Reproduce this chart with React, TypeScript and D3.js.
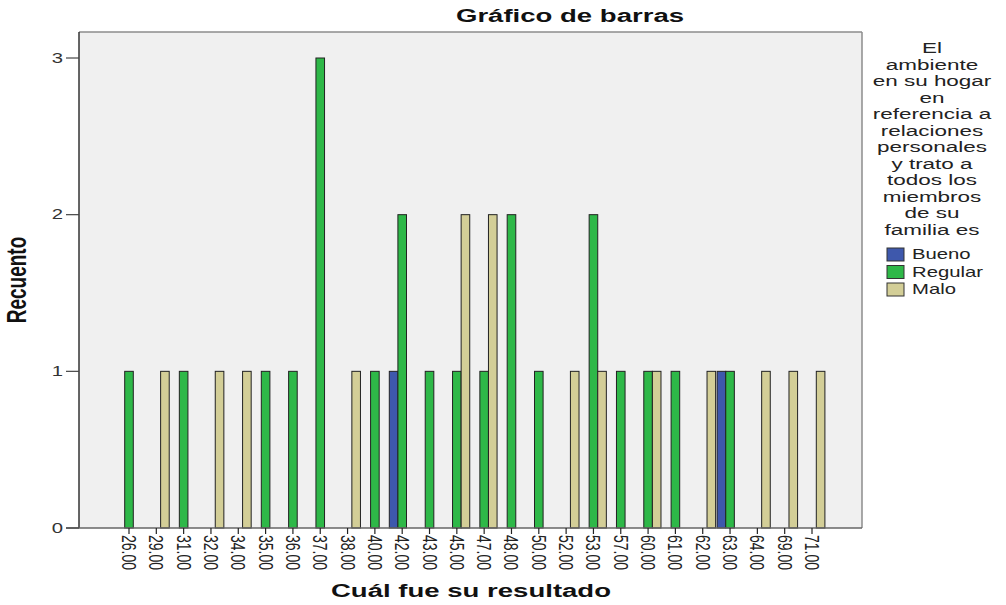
import * as d3 from 'd3';

const categories = ['26.00', '29.00', '31.00', '32.00', '34.00', '35.00', '36.00', '37.00', '38.00', '40.00', '42.00', '43.00', '45.00', '47.00', '48.00', '50.00', '52.00', '53.00', '57.00', '60.00', '61.00', '62.00', '63.00', '64.00', '69.00', '71.00'];
const groups = ['Bueno', 'Regular', 'Malo'];
const bueno = [0, 0, 0, 0, 0, 0, 0, 0, 0, 0, 1, 0, 0, 0, 0, 0, 0, 0, 0, 0, 0, 0, 1, 0, 0, 0];
const regular = [1, 0, 1, 0, 0, 1, 1, 3, 0, 1, 2, 1, 1, 1, 2, 1, 0, 2, 1, 1, 1, 0, 1, 0, 0, 0];
const malo = [0, 1, 0, 1, 1, 0, 0, 0, 1, 0, 0, 0, 2, 2, 0, 0, 1, 1, 0, 1, 0, 1, 0, 1, 1, 1];
const yTicks = [0, 1, 2, 3];
const legendTitle = ['El', 'ambiente', 'en su hogar', 'en', 'referencia a', 'relaciones', 'personales', 'y trato a', 'todos los', 'miembros', 'de su', 'familia es'];

const colors = { Bueno: '#3e58ac', Regular: '#2eb848', Malo: '#d3ce97' };
const font = '"Liberation Sans", Arial, sans-serif';
const SX = 1.45;

const W = 1006;
const H = 605;
const plot = { left: 79, right: 862, top: 32, bottom: 528 };

export default function App() {
  const x = d3.scalePoint().domain(categories).range([plot.left, plot.right]).padding(1.83);
  const sub = d3.scaleBand().domain(groups).range([-12.9, 12.9]);
  const y = d3.scaleLinear().domain([0, 3.166]).range([plot.bottom, plot.top]);
  const series = { Bueno: bueno, Regular: regular, Malo: malo };

  const bars = [];
  groups.forEach((g) => {
    series[g].forEach((v, i) => {
      if (!v) return;
      bars.push({ g, cat: categories[i], v });
    });
  });

  return (
    <svg width={W} height={H} style={{ position: 'absolute', left: 0, top: 0, background: '#fff' }} fontFamily={font}>
      <rect x={plot.left} y={plot.top} width={plot.right - plot.left} height={plot.bottom - plot.top} fill="#f0f0f0" />
      <line x1={plot.left} x2={plot.right} y1={plot.top} y2={plot.top} stroke="#8c8c8c" strokeWidth={1.5} />
      <line x1={plot.right} x2={plot.right} y1={plot.top} y2={plot.bottom} stroke="#8c8c8c" strokeWidth={1.5} />

      {bars.map((b, i) => (
        <rect
          key={i}
          x={x(b.cat) + sub(b.g)}
          y={y(b.v)}
          width={sub.bandwidth()}
          height={y(0) - y(b.v)}
          fill={colors[b.g]}
          stroke="#222"
          strokeWidth={1}
        />
      ))}

      <line x1={plot.left} x2={plot.left} y1={plot.top} y2={plot.bottom} stroke="#333" strokeWidth={1.5} />
      <line x1={plot.left - 13} x2={plot.right} y1={plot.bottom} y2={plot.bottom} stroke="#666" strokeWidth={1.5} />

      {yTicks.map((t) => (
        <g key={t}>
          <line x1={plot.left - 13} x2={plot.left} y1={y(t)} y2={y(t)} stroke="#444" strokeWidth={1.2} />
          <text
            transform={`translate(63,${y(t)}) scale(${SX},1)`}
            textAnchor="end"
            dominantBaseline="central"
            fontSize={14}
            fill="#333"
          >
            {t}
          </text>
        </g>
      ))}

      {categories.map((c) => (
        <g key={c}>
          <line x1={x(c)} x2={x(c)} y1={plot.bottom} y2={plot.bottom + 6} stroke="#222" strokeWidth={1.2} />
          <text
            transform={`translate(${x(c)},${plot.bottom + 7}) scale(${SX},1) rotate(90)`}
            dominantBaseline="central"
            fontSize={14}
            fill="#222"
          >
            {c}
          </text>
        </g>
      ))}

      <text transform={`translate(570,22) scale(${SX},1)`} textAnchor="middle" fontSize={19} fontWeight="bold" fill="#111">
        Gráfico de barras
      </text>
      <text transform={`translate(471,597) scale(${SX},1)`} textAnchor="middle" fontSize={19} fontWeight="bold" fill="#111">
        Cuál fue su resultado
      </text>
      <text
        transform={`translate(26,${(plot.top + plot.bottom) / 2}) scale(${SX},1) rotate(-90)`}
        textAnchor="middle"
        fontSize={19}
        fontWeight="bold"
        fill="#111"
      >
        Recuento
      </text>

      {legendTitle.map((line, i) => (
        <text
          key={line}
          transform={`translate(932,${53 + i * 16.5}) scale(${SX},1)`}
          textAnchor="middle"
          fontSize={15.5}
          fill="#222"
        >
          {line}
        </text>
      ))}
      {groups.map((g, i) => (
        <g key={g} transform={`translate(887,${248 + i * 17.5})`}>
          <rect x={0} y={0} width={17} height={13} fill={colors[g]} stroke="#333" strokeWidth={1} />
          <text transform={`translate(25,11) scale(${SX},1)`} fontSize={14} fill="#222">
            {g}
          </text>
        </g>
      ))}
    </svg>
  );
}
